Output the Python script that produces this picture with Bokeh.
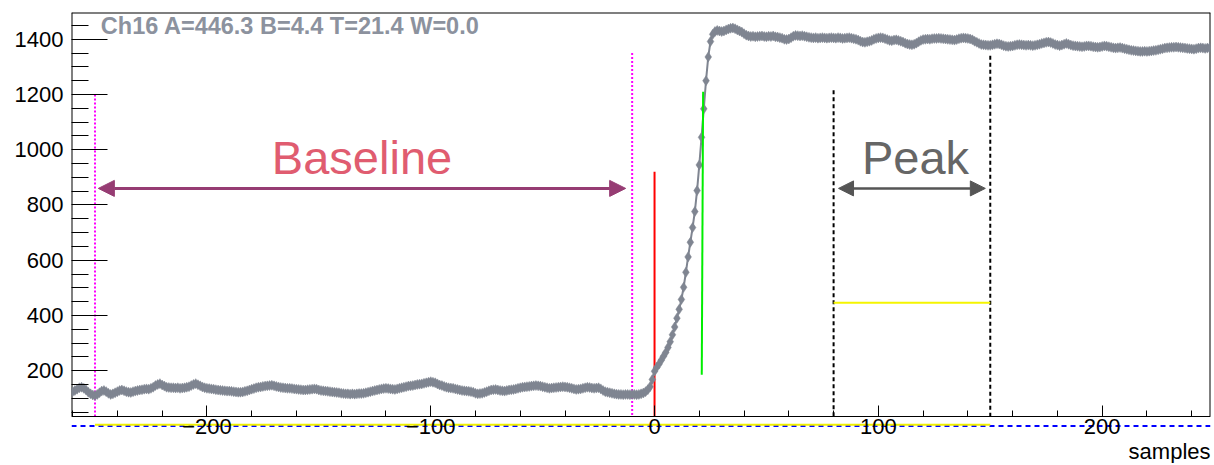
from bokeh.plotting import figure
from bokeh.models import Range1d, Label, Arrow, NormalHead, SingleIntervalTicker, FixedTicker
from bokeh.embed import file_html
from bokeh.resources import INLINE

# ---------------- data ----------------
sample_start = -260
adc = [
    # -260 .. -1
    124, 128, 133, 138, 140, 136, 130, 122, 116, 112,
    110, 114, 120, 126, 128, 124, 118, 114, 116, 120,
    124, 128, 130, 127, 124, 122, 121, 124, 126, 128,
    130, 131, 133, 134, 133, 136, 140, 146, 150, 153,
    148, 144, 140, 139, 138, 138, 137, 138, 136, 137,
    138, 140, 142, 146, 150, 153, 149, 145, 141, 138,
    136, 135, 134, 133, 131, 130, 129, 128, 127, 126,
    126, 125, 124, 123, 122, 122, 123, 125, 127, 130,
    133, 135, 138, 140, 141, 143, 144, 145, 146, 147,
    145, 143, 141, 139, 138, 137, 136, 136, 135, 134,
    133, 132, 131, 130, 130, 131, 132, 133, 134, 133,
    130, 128, 127, 126, 125, 124, 123, 122, 121, 120,
    118, 117, 116, 116, 115, 116, 115, 116, 117, 117,
    118, 120, 122, 124, 126, 128, 130, 132, 134, 135,
    136, 135, 134, 133, 132, 134, 136, 138, 140, 142,
    144, 145, 146, 148, 150, 151, 152, 154, 156, 158,
    160, 158, 156, 152, 148, 146, 143, 140, 138, 137,
    136, 134, 132, 130, 128, 127, 126, 125, 124, 122,
    118, 116, 117, 118, 121, 124, 127, 130, 131, 132,
    130, 128, 127, 126, 128, 130, 131, 132, 134, 136,
    138, 140, 141, 142, 143, 144, 145, 146, 145, 144,
    142, 140, 138, 136, 137, 138, 139, 140, 141, 142,
    141, 140, 138, 136, 134, 132, 133, 134, 136, 138,
    140, 139, 137, 136, 137, 138, 134, 128, 124, 122,
    120, 118, 116, 115, 114, 114, 113, 114, 114, 113,
    114, 114, 113, 114, 116, 119, 124, 131, 142, 168,
    # 0 .. 248
    198, 212, 224, 238, 252, 266, 284, 305, 330, 358,
    390, 422, 458, 502, 556, 612, 665, 718, 776, 852,
    945, 1045, 1148, 1250, 1336, 1392, 1418, 1428, 1432, 1430,
    1428, 1430, 1434, 1437, 1440, 1441, 1438, 1434, 1430, 1426,
    1420, 1415, 1412, 1410, 1411, 1409, 1410, 1411, 1412, 1410,
    1409, 1411, 1410, 1412, 1409, 1408, 1406, 1404, 1400, 1399,
    1401, 1406, 1411, 1414, 1413, 1412, 1413, 1411, 1409, 1407,
    1406, 1405, 1406, 1404, 1405, 1406, 1405, 1404, 1405, 1406,
    1405, 1404, 1406, 1405, 1403, 1404, 1405, 1406, 1404, 1402,
    1400, 1397, 1393, 1390, 1389, 1391, 1393, 1396, 1400, 1403,
    1405, 1406, 1405, 1402, 1399, 1396, 1395, 1397, 1398, 1396,
    1393, 1390, 1386, 1383, 1381, 1380, 1382, 1386, 1391, 1396,
    1399, 1400, 1401, 1400, 1402, 1403, 1403, 1404, 1403, 1402,
    1401, 1400, 1399, 1398, 1397, 1399, 1402, 1404, 1405, 1404,
    1403, 1401, 1398, 1393, 1389, 1385, 1381, 1380, 1379, 1378,
    1378, 1380, 1382, 1384, 1383, 1380, 1377, 1375, 1374, 1375,
    1376, 1378, 1380, 1381, 1380, 1379, 1378, 1379, 1378, 1377,
    1378, 1380, 1382, 1385, 1387, 1389, 1390, 1388, 1385, 1381,
    1379, 1377, 1379, 1382, 1385, 1382, 1379, 1377, 1376, 1375,
    1374, 1373, 1374, 1376, 1376, 1375, 1373, 1372, 1371, 1372,
    1374, 1376, 1375, 1373, 1371, 1369, 1368, 1369, 1370, 1368,
    1366, 1364, 1362, 1360, 1359, 1358, 1357, 1356, 1356, 1357,
    1356, 1357, 1358, 1359, 1360, 1362, 1364, 1366, 1368, 1369,
    1370, 1371, 1371, 1372, 1371, 1370, 1369, 1368, 1367, 1366,
    1365, 1364, 1366, 1368, 1369, 1368, 1367, 1368, 1369,
]
samples = list(range(sample_start, sample_start + len(adc)))

title_text = "Ch16 A=446.3 B=4.4 T=21.4 W=0.0"
baseline_window = [-250, -10]
baseline_marker_tops = [1200, 1350]
peak_window = [80, 150]
peak_marker_tops = [1215, 1340]
start_time = 0
start_marker_top = 920
fit_x = [21.1, 21.7]
fit_y = [185, 1210]
amplitude = 446.3
baseline_level = 4.4
zero_level = 0
arrow_level = 860
baseline_arrow = [-248.5, -12.9]
peak_arrow = [82.2, 147.8]
x_range = [-260.5, 248.4]
y_range = [34, 1497]          # the drawn frame (ROOT histogram frame)
y_major = [200, 400, 600, 800, 1000, 1200, 1400]
y_minor = [50, 100, 150, 250, 300, 350, 450, 500, 550, 650, 700, 750, 850, 900, 950,
           1050, 1100, 1150, 1250, 1300, 1350, 1450]
x_labels = {-200: "\u2212200", -100: "\u2212100"}

FONT = "Liberation Sans"

# pixel layout: canvas top 0, frame top 12, axis line at 416, canvas bottom 463
frame_top_px, axis_px, canvas_h = 12, 416, 463
scale = (axis_px - frame_top_px) / (y_range[1] - y_range[0])
y_view_start = y_range[0] - (canvas_h - axis_px) / scale

p = figure(width=1212, height=canvas_h, output_backend="svg", toolbar_location=None,
           x_range=Range1d(*x_range), y_range=Range1d(y_view_start, y_range[1]),
           min_border_left=71, min_border_right=2, min_border_top=frame_top_px, min_border_bottom=0)
p.grid.visible = False
p.outline_line_color = None
p.background_fill_color = "white"
p.border_fill_color = "white"

# axes
p.xaxis.ticker = SingleIntervalTicker(interval=100, num_minor_ticks=5)
p.yaxis.ticker = FixedTicker(ticks=y_major, minor_ticks=y_minor)
p.xaxis.fixed_location = y_range[0]
for ax in (p.xaxis, p.yaxis):
    ax.axis_line_color = "black"
    ax.major_tick_line_color = "black"
    ax.minor_tick_line_color = "black"
    ax.major_tick_out = 0
    ax.minor_tick_out = 0
    ax.major_label_text_font = FONT
    ax.major_label_text_font_size = "22px"
    ax.major_label_text_color = "black"
p.yaxis.axis_line_color = None
p.yaxis.major_tick_in = 36
p.yaxis.minor_tick_in = 17
p.yaxis.major_label_standoff = 8
p.xaxis.major_tick_in = 11
p.xaxis.minor_tick_in = 6
p.xaxis.major_label_standoff = 2
p.xaxis.major_label_overrides = x_labels

# frame edges (left, top, right)
p.segment(x0=[x_range[0], x_range[0], x_range[1]], y0=[y_range[0], y_range[1], y_range[1]],
          x1=[x_range[0], x_range[1], x_range[1]], y1=[y_range[1], y_range[1], y_range[0]],
          line_color="black", line_width=2)

# zero level and baseline level lines (just below the frame)
p.segment(x0=[x_range[0]], y0=[zero_level], x1=[x_range[1]], y1=[zero_level],
          line_color="#0000ff", line_width=2, line_dash="5 4")
p.segment(x0=[baseline_window[0]], y0=[baseline_level], x1=[peak_window[1]], y1=[baseline_level],
          line_color="#f0f000", line_width=2)

# marker lines
p.segment(x0=baseline_window, y0=baseline_marker_tops, x1=baseline_window, y1=[y_range[0]] * 2,
          line_color="#ff00ff", line_width=2, line_dash="2 2")
p.segment(x0=[start_time], y0=[start_marker_top], x1=[start_time], y1=[y_range[0]],
          line_color="#ff0000", line_width=2)
p.segment(x0=peak_window, y0=peak_marker_tops, x1=peak_window, y1=[y_range[0]] * 2,
          line_color="black", line_width=2, line_dash="4 3")
p.segment(x0=[peak_window[0]], y0=[amplitude], x1=[peak_window[1]], y1=[amplitude],
          line_color="#f5f500", line_width=2)

# waveform
wave_color = "#7f8591"
p.line(samples, adc, line_color=wave_color, line_width=2)
p.scatter(samples, adc, marker="diamond", size=10, fill_color=wave_color, line_color=wave_color,
          line_width=0.5)

# fit line on rising edge
p.segment(x0=[fit_x[0]], y0=[fit_y[0]], x1=[fit_x[1]], y1=[fit_y[1]], line_color="#00ee00", line_width=2)

# arrows
p.add_layout(Arrow(start=NormalHead(size=16, fill_color="#963c73", line_color="#963c73"),
                   end=NormalHead(size=16, fill_color="#963c73", line_color="#963c73"),
                   x_start=baseline_arrow[0], x_end=baseline_arrow[1], y_start=arrow_level, y_end=arrow_level,
                   line_color="#963c73", line_width=3))
p.add_layout(Arrow(start=NormalHead(size=15, fill_color="#555555", line_color="#555555"),
                   end=NormalHead(size=15, fill_color="#555555", line_color="#555555"),
                   x_start=peak_arrow[0], x_end=peak_arrow[1], y_start=arrow_level, y_end=arrow_level,
                   line_color="#555555", line_width=2.5))

# texts
p.add_layout(Label(x=-130.7, y=971, text="Baseline", text_align="center", text_baseline="alphabetic",
                   text_font=FONT, text_font_size="47px", text_color="#e05c70"))
p.add_layout(Label(x=116.6, y=971, text="Peak", text_align="center", text_baseline="alphabetic",
                   text_font=FONT, text_font_size="47px", text_color="#666666"))
p.add_layout(Label(x=-247.4, y=1447, text=title_text, text_align="left", text_baseline="alphabetic",
                   text_font=FONT, text_font_size="23.5px", text_font_style="bold", text_color="#8c929e"))
p.add_layout(Label(x=x_range[1], y=y_range[0] - 35 / scale, text="samples", text_align="right",
                   text_baseline="middle", text_font=FONT, text_font_size="22px", text_color="black"))

open("out.html", "w").write(file_html(p, INLINE))
